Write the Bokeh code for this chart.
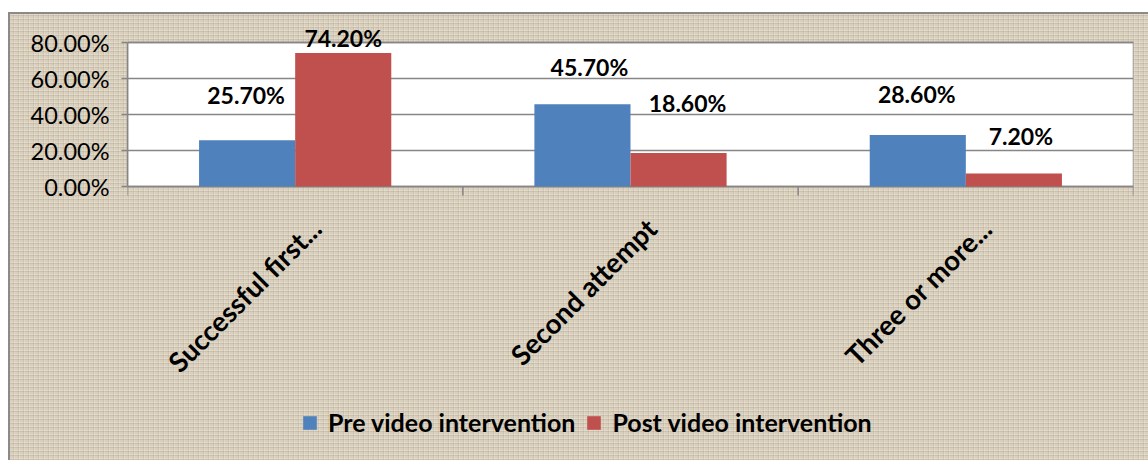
import math
from bokeh.plotting import figure
from bokeh.models import (Range1d, FixedTicker, NumeralTickFormatter,
                          ColumnDataSource, Legend, LegendItem, Spacer)
from bokeh.core.properties import value
from bokeh.layouts import column, row
from bokeh.transform import dodge
from bokeh.embed import file_html
from bokeh.resources import INLINE

# ---------------- data ----------------
categories = ["Successful first...", "Second attempt", "Three or more..."]
pre_video = [0.257, 0.457, 0.286]
post_video = [0.742, 0.186, 0.072]
series_names = ["Pre video intervention", "Post video intervention"]
y_ticks = [0.0, 0.2, 0.4, 0.6, 0.8]

# label nudges in screen pixels (style only)
pre_label_dy = [45, 37, 41]
post_label_dy = [15, 50, 38]
pre_label_dx = [-1, 7, -1]
post_label_dx = [0, 9, 7]

FONT = "Lato"
BLUE = "#4f81bd"
RED = "#c0504d"
GRID = "#868686"

n = len(categories)
ymax = y_ticks[-1]

# ---------------- geometry (pixels) ----------------
FIG_W, FIG_H = 1140, 448
LEFT = 119            # frame left inside figure
RIGHT = 15
PLOT_TOP = 30         # top of white plot area inside figure
PLOT_H = 144          # height of white plot area
px_per_unit = PLOT_H / ymax
y_end = ymax + PLOT_TOP / px_per_unit
y_start = -(FIG_H - PLOT_TOP - PLOT_H) / px_per_unit

src = ColumnDataSource(dict(
    cat=categories,
    xc=[i + 0.5 for i in range(n)],
    pre=pre_video,
    post=post_video,
    pre_txt=[f"{v:.2%}" for v in pre_video],
    post_txt=[f"{v:.2%}" for v in post_video],
    pre_dy=[-d for d in pre_label_dy], post_dy=[-d for d in post_label_dy],
    pre_dx=pre_label_dx, post_dx=post_label_dx,
    zero=[0] * n,
))
edges = ColumnDataSource(dict(x=list(range(n + 1)), y=[0] * (n + 1)))

texture = ("linear-gradient(#8a8a8a,#8a8a8a) top left/100% 2px no-repeat, "
           "linear-gradient(#8a8a8a,#8a8a8a) top left/2px 100% no-repeat, "
           "repeating-linear-gradient(0deg, rgba(120,104,78,0.14) 0px, rgba(120,104,78,0.14) 1px, rgba(255,252,244,0.20) 1px, rgba(255,252,244,0.20) 2px, transparent 2px, transparent 4px), "
           "repeating-linear-gradient(90deg, rgba(120,104,78,0.12) 0px, rgba(120,104,78,0.12) 1px, rgba(255,252,244,0.18) 1px, rgba(255,252,244,0.18) 2px, transparent 2px, transparent 5px), "
           "#d9cfbd")

p = figure(x_range=Range1d(0, n), y_range=Range1d(y_start, y_end),
           width=FIG_W, height=FIG_H, output_backend="svg", toolbar_location=None,
           x_axis_location=None, min_border_left=LEFT, min_border_right=RIGHT,
           min_border_top=0, min_border_bottom=0)
p.styles = {"background": texture}
p.border_fill_color = None
p.background_fill_color = None
p.outline_line_color = None

# white plot area (under the grid)
p.quad(left=0, right=n, bottom=y_ticks[0], top=ymax, fill_color="white",
       line_color=GRID, line_width=1.5, level="image")

BW = 0.2866
r_pre = p.vbar(x=dodge("xc", -BW / 2), top="pre", width=BW, source=src,
               fill_color=BLUE, line_color=None)
r_post = p.vbar(x=dodge("xc", BW / 2), top="post", width=BW, source=src,
                fill_color=RED, line_color=None)

# y axis
p.yaxis.ticker = FixedTicker(ticks=y_ticks)
p.yaxis.bounds = (y_ticks[0], ymax)
p.yaxis.formatter = NumeralTickFormatter(format="0.00%")
p.yaxis.major_label_text_font = FONT
p.yaxis.major_label_text_font_size = "23.5px"
p.yaxis.major_label_text_color = "black"
p.yaxis.axis_line_color = GRID
p.yaxis.axis_line_width = 1.5
p.yaxis.major_tick_line_color = GRID
p.yaxis.major_tick_line_width = 1.5
p.yaxis.major_tick_out = 6
p.yaxis.major_tick_in = 0
p.yaxis.minor_tick_line_color = None
p.yaxis.major_label_standoff = 12
p.ygrid.ticker = FixedTicker(ticks=y_ticks)
p.ygrid.grid_line_color = GRID
p.ygrid.grid_line_width = 1.5
p.xgrid.grid_line_color = None

# category boundary tick marks below the plot area
p.ray(x="x", y="y", source=edges, length=9, length_units="screen", angle=-math.pi / 2,
      line_color=GRID, line_width=1.5)

# value labels
common = dict(source=src, text_align="center", text_baseline="middle", text_font=value(FONT),
              text_font_style="bold", text_font_size="23px", text_color="black")
p.text(x=dodge("xc", -BW / 2), y="pre", text="pre_txt", x_offset="pre_dx", y_offset="pre_dy", **common)
p.text(x=dodge("xc", BW / 2), y="post", text="post_txt", x_offset="post_dx", y_offset="post_dy", **common)

# category labels (rotated)
p.text(x="xc", y="zero", text="cat", source=src, x_offset=21, y_offset=37,
       angle=math.pi / 4, text_align="right", text_baseline="middle",
       text_font=value(FONT), text_font_style="bold", text_font_size="27.5px",
       text_color="black")

legend = Legend(items=[LegendItem(label=series_names[0], renderers=[r_pre]),
                       LegendItem(label=series_names[1], renderers=[r_post])],
                orientation="horizontal", location=(174, 23), padding=0, margin=0,
                spacing=10, label_standoff=10, glyph_width=17, glyph_height=17,
                label_text_font=FONT, label_text_font_style="bold", label_text_font_size="25px",
                label_text_color="black",
                background_fill_alpha=0, border_line_color=None)
p.add_layout(legend, "center")

layout = column(Spacer(height=12, width=1148), row(Spacer(width=8, height=FIG_H), p))

open("out.html", "w").write(file_html(layout, INLINE))
